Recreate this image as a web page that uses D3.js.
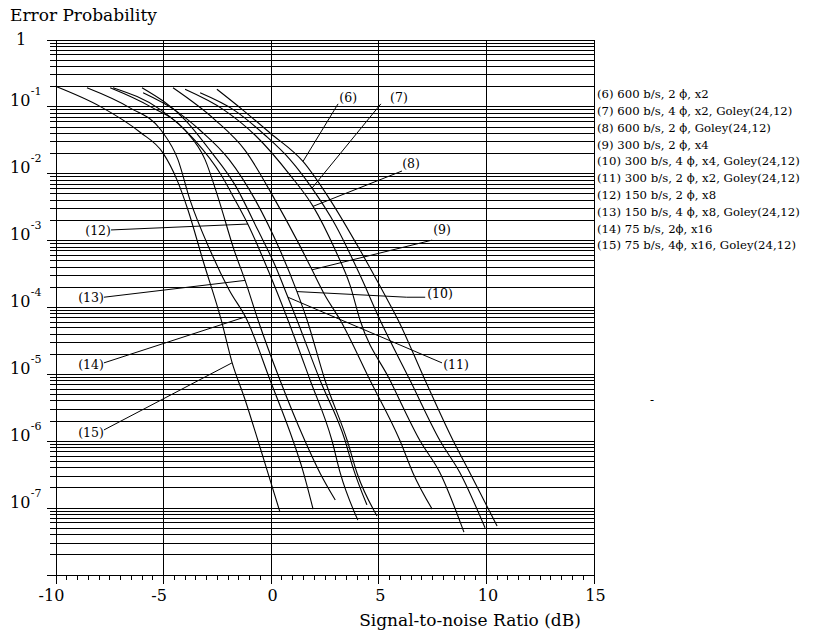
<!DOCTYPE html>
<html>
<head>
<meta charset="utf-8">
<script src="https://cdn.jsdelivr.net/npm/d3@7"></script>
<style>
  html, body { margin: 0; padding: 0; background: #fff; }
  svg text { font-family: "DejaVu Serif", serif; fill: #000; }
</style>
</head>
<body>
<svg id="chart" width="825" height="635"></svg>
<script>
// Error probability vs. signal-to-noise ratio, points as [SNR dB, probability]
const curve6  = [[-2.5,0.18],[-1.29,0.088],[-0.03,0.040],[1.5,0.015],[2.76,0.0040],[4.15,7.1e-4],[5.31,1.5e-4],[5.92,6.4e-5],[7.17,8.1e-6],[8.48,1.0e-6],[9.26,3.3e-7],[10.52,5.3e-8]];
const curve7  = [[-3.28,0.16],[-1.7,0.088],[-0.26,0.037],[0.9,0.016],[1.92,0.0060],[3.0,0.0017],[4.15,3.0e-4],[5.08,6.4e-5],[6.47,8.1e-6],[7.87,1.0e-6],[8.8,3.3e-7],[9.96,5.0e-8]];
const curve8  = [[-3.98,0.18],[-2.16,0.088],[-0.72,0.037],[0.9,0.0094],[1.97,0.0032],[3.0,7.1e-4],[3.69,2.1e-4],[4.15,6.4e-5],[5.54,8.1e-6],[6.94,1.0e-6],[7.87,3.3e-7],[8.98,4.3e-8]];
const curve9  = [[-4.54,0.19],[-2.59,0.063],[-1.19,0.022],[0.2,0.0040],[1.22,0.0010],[1.92,3.6e-4],[2.52,1.5e-4],[3.23,6.4e-5],[4.61,8.1e-6],[6.01,1.0e-6],[6.61,3.3e-7],[7.5,9.5e-8]];
const curve10 = [[-5.93,0.16],[-4.45,0.088],[-3.28,0.044],[-1.93,0.016],[-0.72,0.0040],[0.43,7.1e-4],[1.22,1.7e-4],[1.69,6.4e-5],[2.52,8.1e-6],[3.56,1.0e-6],[4.01,3.3e-7],[4.94,7.5e-8]];
const curve11 = [[-5.98,0.19],[-3.98,0.063],[-2.82,0.022],[-1.66,0.0067],[-0.59,0.0014],[0.2,4.2e-4],[0.8,1.4e-4],[1.22,6.4e-5],[2.29,8.1e-6],[3.46,1.0e-6],[3.82,4.0e-7],[4.47,1.1e-7]];
const curve12 = [[-7.33,0.19],[-5.09,0.088],[-3.52,0.031],[-2.3,0.0094],[-1.66,0.0040],[-1.05,0.0017],[-0.13,3.6e-4],[0.8,6.4e-5],[1.83,8.1e-6],[2.85,1.0e-6],[3.23,3.3e-7],[4.05,6.5e-8]];
const curve13 = [[-7.46,0.19],[-5.61,0.10],[-3.98,0.044],[-3.05,0.016],[-2.45,0.0044],[-1.7,7.1e-4],[-1.19,2.5e-4],[-0.59,6.4e-5],[0.43,8.1e-6],[1.59,1.0e-6],[2.29,3.3e-7],[3.0,1.3e-7]];
const curve14 = [[-8.54,0.19],[-6.54,0.095],[-5.09,0.044],[-4.31,0.016],[-3.75,0.0040],[-2.82,7.1e-4],[-1.93,1.8e-4],[-1.1,6.4e-5],[-0.03,8.1e-6],[1.04,1.0e-6],[1.45,4.0e-7],[1.97,9.5e-8]];
const curve15 = [[-10,0.20],[-7.93,0.10],[-6.07,0.041],[-5.0,0.020],[-4.35,0.0079],[-3.84,0.0028],[-3.15,5.0e-4],[-2.3,6.4e-5],[-1.8,1.5e-5],[-1.19,4.1e-6],[-0.59,1.0e-6],[-0.13,3.3e-7],[0.43,8.6e-8]];

const curves = [curve6, curve7, curve8, curve9, curve10, curve11, curve12, curve13, curve14, curve15];

const legendLabels = [
  "(6) 600 b/s, 2 \u03d5, x2",
  "(7) 600 b/s, 4 \u03d5, x2, Goley(24,12)",
  "(8) 600 b/s, 2 \u03d5, Goley(24,12)",
  "(9) 300 b/s, 2 \u03d5, x4",
  "(10) 300 b/s, 4 \u03d5, x4, Goley(24,12)",
  "(11) 300 b/s, 2 \u03d5, x2, Goley(24,12)",
  "(12) 150 b/s, 2 \u03d5, x8",
  "(13) 150 b/s, 4 \u03d5, x8, Goley(24,12)",
  "(14) 75 b/s, 2\u03d5, x16",
  "(15) 75 b/s, 4\u03d5, x16, Goley(24,12)"
];

// Curve callouts: label centre, and leader line from label to curve
const calloutNames = ["(6)","(7)","(8)","(9)","(10)","(11)","(12)","(13)","(14)","(15)"];
const calloutLabelAt = [[3.6,0.138],[5.96,0.138],[6.52,0.0142],[7.96,0.00142],[7.87,1.6e-4],[8.61,1.36e-5],[-8.02,1.37e-3],[-8.35,1.4e-4],[-8.35,1.36e-5],[-8.35,1.35e-6]];
const calloutLines = [
  [[3.13,0.109],[1.5,0.015]],
  [[5.12,0.109],[1.92,0.0060]],
  [[6.1,0.0108],[1.97,0.0032]],
  [[7.5,0.0010],[1.92,3.6e-4]],
  [[7.18,1.4e-4],[6.32,1.4e-4],[1.22,1.7e-4]],
  [[7.96,1.46e-5],[0.8,1.4e-4]],
  [[-7.42,1.42e-3],[-1.05,1.74e-3]],
  [[-7.75,1.4e-4],[-1.19,2.5e-4]],
  [[-7.75,1.46e-5],[-1.19,7.1e-5]],
  [[-7.75,1.45e-6],[-1.8,1.46e-5]]
];

const xMajorTicks = [-10, -5, 0, 5, 10, 15];
const yDecadeExponents = [0, -1, -2, -3, -4, -5, -6, -7];

const svg = d3.select("#chart");
const x = d3.scaleLinear().domain([-10, 15]).range([55.5, 593.5]);
const y = d3.scaleLog().domain([1, 1e-8]).range([39.5, 574.5]);
const plotW = x.range()[1] - x.range()[0];
const plotH = y.range()[1] - y.range()[0];

// Horizontal log grid: 1..9 x 10^k
const gridValues = [];
for (let k = -8; k <= 0; k++) {
  for (let m = 1; m <= 9; m++) {
    if (k === 0 && m > 1) continue;
    gridValues.push(+(m * Math.pow(10, k)).toPrecision(3));
  }
}
const isDecade = v => Math.abs(Math.log10(v) - Math.round(Math.log10(v))) < 1e-6;

const yGrid = svg.append("g")
  .attr("transform", `translate(${x.range()[0]},0)`)
  .call(d3.axisLeft(y).tickValues(gridValues).tickSizeInner(-plotW).tickSizeOuter(0).tickFormat(""));
yGrid.select(".domain").remove();
yGrid.selectAll(".tick line")
  .attr("x1", d => isDecade(d) ? -9 : -6)
  .attr("stroke", "#000")
  .attr("shape-rendering", "crispEdges");

// Vertical grid at major SNR values, extended below the axis as long ticks
const xGrid = svg.append("g")
  .attr("transform", `translate(0,${y.range()[1]})`)
  .call(d3.axisBottom(x).tickValues(xMajorTicks).tickSizeInner(-plotH).tickSizeOuter(0).tickFormat(""));
xGrid.select(".domain").remove();
xGrid.selectAll(".tick line")
  .attr("y1", 9)
  .attr("stroke", "#000")
  .attr("shape-rendering", "crispEdges");

// Bottom minor ticks every 0.5 dB
const halfSteps = d3.range(-10, 15.001, 0.5).filter(v => v % 5 !== 0);
const xMinor = svg.append("g")
  .attr("transform", `translate(0,${y.range()[1]})`)
  .call(d3.axisBottom(x).tickValues(halfSteps).tickSizeInner(5).tickSizeOuter(0).tickFormat(""));
xMinor.select(".domain").remove();
xMinor.selectAll(".tick line").attr("stroke", "#000").attr("shape-rendering", "crispEdges");

// X tick labels
svg.append("g").selectAll("text")
  .data(xMajorTicks)
  .join("text")
  .attr("x", d => x(d) + (d < 0 ? -4 : 2))
  .attr("y", 601)
  .attr("text-anchor", "middle")
  .attr("font-size", 16)
  .text(d => String(d));

// Y decade labels
const yLabels = svg.append("g");
yDecadeExponents.forEach(k => {
  const v = Math.pow(10, k);
  if (k === 0) {
    yLabels.append("text")
      .attr("x", 21).attr("y", y(v) + 5)
      .attr("text-anchor", "middle")
      .attr("font-size", 16)
      .text("1");
  } else {
    const t = yLabels.append("text")
      .attr("x", 10).attr("y", y(v))
      .attr("font-size", 16);
    t.append("tspan").text("10");
    t.append("tspan")
      .attr("font-size", 11)
      .attr("dx", 0.5)
      .attr("dy", -11)
      .text(String(k));
  }
});

// Curves
const line = d3.line()
  .x(d => x(d[0]))
  .y(d => y(d[1]))
  .curve(d3.curveMonotoneX);

svg.append("g")
  .selectAll("path")
  .data(curves)
  .join("path")
  .attr("d", line)
  .attr("fill", "none")
  .attr("stroke", "#000")
  .attr("stroke-width", 1.1);

// Callout leader lines and labels
const straight = d3.line().x(d => x(d[0])).y(d => y(d[1]));
svg.append("g")
  .selectAll("path")
  .data(calloutLines)
  .join("path")
  .attr("d", straight)
  .attr("fill", "none")
  .attr("stroke", "#000")
  .attr("stroke-width", 1);

svg.append("g")
  .selectAll("text")
  .data(calloutNames)
  .join("text")
  .attr("x", (d, i) => x(calloutLabelAt[i][0]))
  .attr("y", (d, i) => y(calloutLabelAt[i][1]))
  .attr("dy", "0.36em")
  .attr("text-anchor", "middle")
  .attr("font-size", 12.5)
  .text(d => d);

// Legend
svg.append("g")
  .selectAll("text")
  .data(legendLabels)
  .join("text")
  .attr("x", 597)
  .attr("y", (d, i) => 94 + i * 16.8)
  .attr("dy", "0.36em")
  .attr("font-size", 11.7)
  .text(d => d);

// Titles
svg.append("text")
  .attr("x", 10).attr("y", 21)
  .attr("font-size", 17)
  .text("Error Probability");

svg.append("text")
  .attr("x", 470).attr("y", 626)
  .attr("text-anchor", "middle")
  .attr("font-size", 17)
  .text("Signal-to-noise Ratio (dB)");

svg.append("text")
  .attr("x", 652).attr("y", 404)
  .attr("text-anchor", "middle")
  .attr("font-size", 12)
  .text("-");
</script>
</body>
</html>
